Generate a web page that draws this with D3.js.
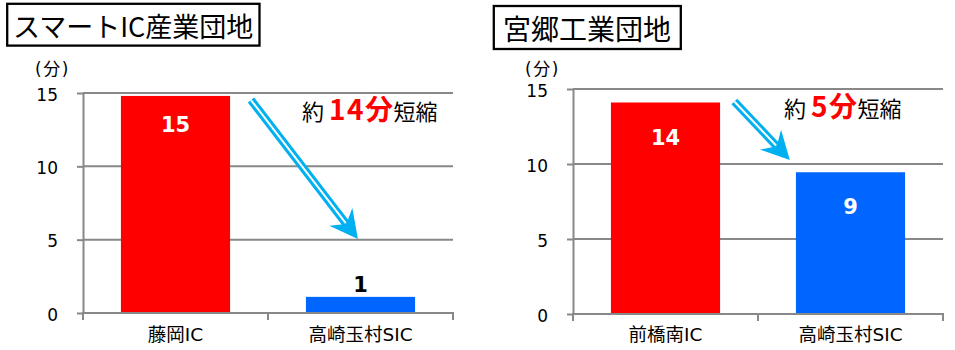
<!DOCTYPE html>
<html>
<head>
<meta charset="utf-8">
<script src="https://cdn.jsdelivr.net/npm/d3@7"></script>
<style>
  body { margin: 0; background: #fff; }
  svg { display: block; }
</style>
</head>
<body>
<svg id="chart" width="955" height="350"></svg>
<script>
// Travel time (minutes) from each industrial park to the nearest interchange
const yTicks = [0, 5, 10, 15];
const unitLabel = "(分)";

const leftTitle = "スマートIC産業団地";
const leftCategories = ["藤岡IC", "高崎玉村SIC"];
const leftValues = [14.8, 1.1];

const rightTitle = "宮郷工業団地";
const rightCategories = ["前橋南IC", "高崎玉村SIC"];
const rightValues = [14.1, 9.45];

const barColors = ["#ff0000", "#0066ff"];
const gridColor = "#888888";
const arrowColor = "#00b0f0";
const cjk = "'Noto Sans CJK JP', sans-serif";
const latin = "'DejaVu Sans', 'Noto Sans CJK JP', sans-serif";

const svg = d3.select("#chart");

function drawArrow(g, p0, p1) {
  const dx = p1[0] - p0[0], dy = p1[1] - p0[1];
  const len = Math.hypot(dx, dy);
  const ux = dx / len, uy = dy / len, nx = -uy, ny = ux;
  const L = 28, W = 14.5, notch = 19;
  const at = (d, w) => [p1[0] - ux * d + nx * w, p1[1] - uy * d + ny * w];
  const neck = at(notch, 0);
  g.append("line")
    .attr("x1", p0[0]).attr("y1", p0[1]).attr("x2", neck[0]).attr("y2", neck[1])
    .attr("stroke", arrowColor).attr("stroke-width", 8);
  g.append("path")
    .attr("d", d3.line()([p1, at(L, W), neck, at(L, -W)]) + "Z")
    .attr("fill", arrowColor);
  const core = at(notch + 1, 0);
  g.append("line")
    .attr("x1", p0[0]).attr("y1", p0[1]).attr("x2", core[0]).attr("y2", core[1])
    .attr("stroke", "#fff").attr("stroke-width", 2);
}

function drawPanel(cfg) {
  const g = svg.append("g");
  const x = d3.scaleBand().domain(cfg.categories)
    .range([cfg.left, cfg.right]).paddingInner(0.41).paddingOuter(0.205);
  const y = d3.scaleLinear().domain([0, 15]).range([cfg.bottom, cfg.top]);
  const fx = d3.scaleLinear().domain([0, 1]).range([cfg.left, cfg.right]);

  // title box
  g.append("rect")
    .attr("x", cfg.box[0]).attr("y", cfg.box[1]).attr("width", cfg.box[2]).attr("height", cfg.box[3])
    .attr("fill", "#fff").attr("stroke", "#000").attr("stroke-width", 2.3);
  g.append("text")
    .attr("x", cfg.titleX).attr("y", cfg.titleY)
    .attr("dominant-baseline", "central")
    .attr("font-family", cjk).attr("font-size", cfg.titleSize).attr("fill", "#000")
    .text(cfg.title);

  // unit label
  g.append("text")
    .attr("x", cfg.unitX).attr("y", 75)
    .attr("font-family", latin).attr("font-size", 17).attr("letter-spacing", 1.5).attr("fill", "#000")
    .text(unitLabel);

  // gridlines
  g.selectAll("line.grid").data(yTicks.filter(t => t > 0)).join("line")
    .attr("class", "grid")
    .attr("x1", cfg.left).attr("x2", cfg.right)
    .attr("y1", d => y(d)).attr("y2", d => y(d))
    .attr("stroke", gridColor).attr("stroke-width", 2);

  // bars
  g.selectAll("rect.bar").data(cfg.values).join("rect")
    .attr("class", "bar")
    .attr("x", (d, i) => x(cfg.categories[i]))
    .attr("width", x.bandwidth())
    .attr("y", d => y(d))
    .attr("height", d => y(0) - y(d))
    .attr("fill", (d, i) => barColors[i]);

  // value axis
  const yAxis = g.append("g").attr("transform", `translate(${cfg.left},0)`)
    .call(d3.axisLeft(y).tickValues(yTicks).tickSize(6).tickSizeOuter(0).tickPadding(19));
  yAxis.select(".domain").attr("stroke", gridColor).attr("stroke-width", 2);
  yAxis.selectAll(".tick line").attr("stroke", gridColor).attr("stroke-width", 2);
  yAxis.selectAll(".tick text")
    .attr("font-family", latin).attr("font-size", 17).attr("fill", "#000").attr("dy", "0.42em");

  // category axis
  const step = x.step();
  const bounds = d3.range(cfg.categories.length + 1).map(i => cfg.left + i * step);
  g.append("line")
    .attr("x1", cfg.left - 1).attr("x2", cfg.right + 1)
    .attr("y1", y(0)).attr("y2", y(0))
    .attr("stroke", gridColor).attr("stroke-width", 2);
  g.selectAll("line.xtick").data(bounds).join("line")
    .attr("class", "xtick")
    .attr("x1", d => d).attr("x2", d => d)
    .attr("y1", y(0)).attr("y2", y(0) + 7)
    .attr("stroke", gridColor).attr("stroke-width", 2);
  g.selectAll("text.cat").data(cfg.categories).join("text")
    .attr("class", "cat")
    .attr("x", d => x(d) + x.bandwidth() / 2)
    .attr("y", 341)
    .attr("text-anchor", "middle")
    .attr("font-family", latin).attr("font-size", 18.5).attr("fill", "#000")
    .text(d => d);

  // value labels
  const inside = d => y(0) - y(d) > 40;
  g.selectAll("text.val").data(cfg.values).join("text")
    .attr("class", "val")
    .attr("x", (d, i) => x(cfg.categories[i]) + x.bandwidth() / 2)
    .attr("y", d => inside(d) ? y(d) + cfg.labelInset : y(d) - 5)
    .attr("text-anchor", "middle")
    .attr("font-family", latin).attr("font-weight", "bold").attr("font-size", 21)
    .attr("fill", d => inside(d) ? "#fff" : "#000")
    .text(d => Math.round(d));

  // reduction arrow
  drawArrow(g, [fx(cfg.arrow[0][0]), y(cfg.arrow[0][1])], [fx(cfg.arrow[1][0]), y(cfg.arrow[1][1])]);

  // reduction note
  const saved = Math.round(cfg.values[0] - cfg.values[1]);
  const note = g.append("text")
    .attr("x", cfg.noteX).attr("y", cfg.noteY)
    .attr("font-family", cjk).attr("fill", "#000");
  note.append("tspan").attr("font-size", 22).text("約");
  note.append("tspan").attr("font-size", 28).attr("font-weight", "bold")
    .attr("letter-spacing", 1.5)
    .attr("fill", "#ff0000").attr("dx", 5).text(saved + "分");
  note.append("tspan").attr("font-size", 22).attr("dx", -1).text("短縮");
}

drawPanel({
  title: leftTitle, categories: leftCategories, values: leftValues,
  left: 83, right: 453, top: 93, bottom: 313,
  box: [7.2, 3.8, 252.3, 41.8], titleX: 13, titleY: 25, titleSize: 27,
  unitX: 35, labelInset: 36,
  arrow: [[0.454, 14.52], [0.743, 5.04]],
  noteX: 302, noteY: 120
});

drawPanel({
  title: rightTitle, categories: rightCategories, values: rightValues,
  left: 573, right: 943, top: 89, bottom: 314,
  box: [493.8, 6, 187, 43], titleX: 503, titleY: 27.5, titleSize: 28,
  unitX: 525, labelInset: 42,
  arrow: [[0.436, 14.17], [0.586, 10.27]],
  noteX: 784, noteY: 117
});
</script>
</body>
</html>
